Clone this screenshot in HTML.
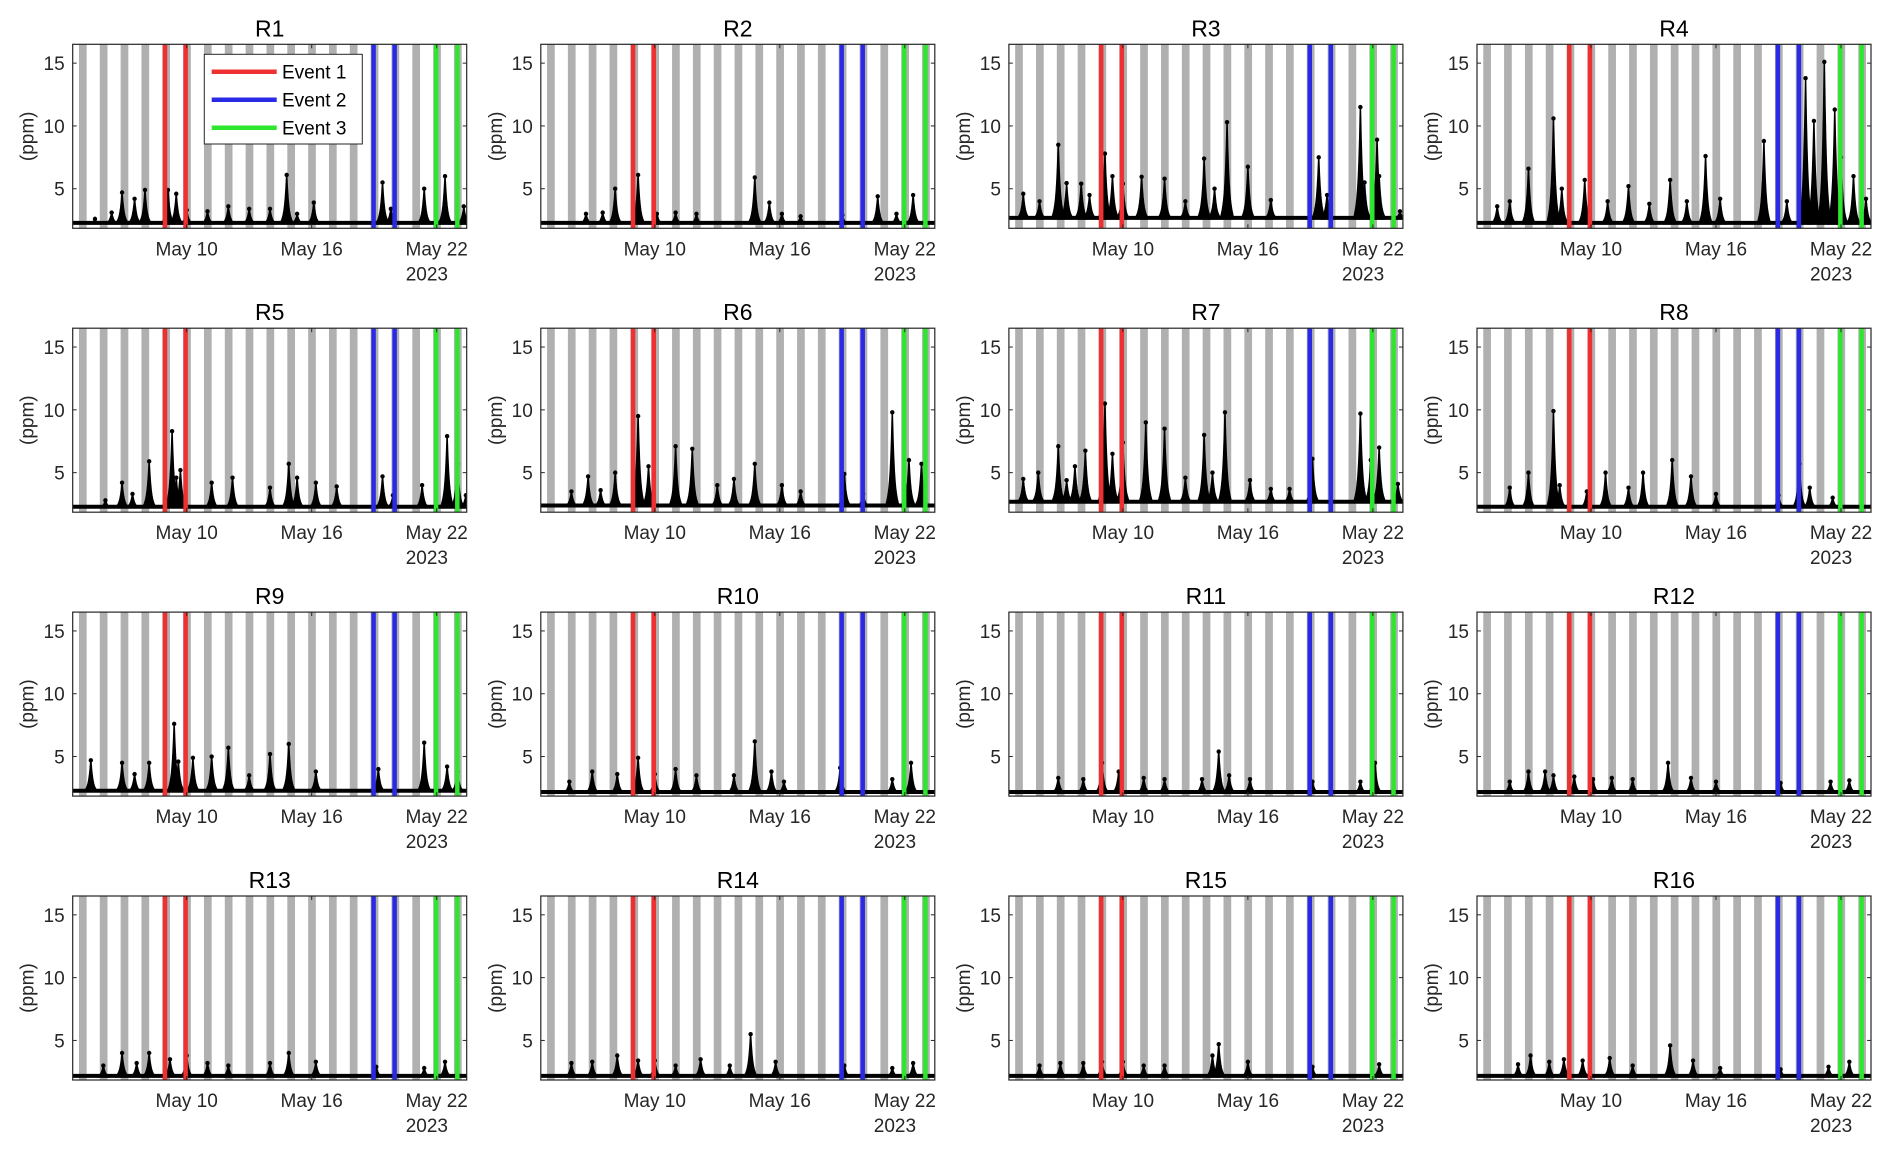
<!DOCTYPE html>
<html><head><meta charset="utf-8"><style>
html,body{margin:0;padding:0;background:#fff;}
svg{display:block;font-family:"Liberation Sans",Arial,sans-serif;}
</style></head><body>
<svg id="fig" width="1892" height="1151" viewBox="0 0 1892 1151" xmlns="http://www.w3.org/2000/svg"></svg>
<script>
const panelNames=["R1","R2","R3","R4","R5","R6","R7","R8","R9","R10","R11","R12","R13","R14","R15","R16"];
const baselines=[2.2,2.2,2.6,2.2,2.2,2.3,2.6,2.2,2.2,2.1,2.1,2.1,2.1,2.1,2.1,2.1];
const peaksR1=[[5.6,2.6],[6.4,3.1],[6.9,4.7],[7.5,4.2],[8.0,4.9],[9.1,4.9],[9.5,4.6],[10.0,3.3],[11.0,3.2],[12.0,3.6],[13.0,3.4],[14.0,3.4],[14.8,6.1],[15.3,3.0],[16.1,3.9],[19.4,5.5],[19.8,3.4],[21.4,5.0],[22.4,6.0],[23.3,3.6]];
const peaksR2=[[6.7,3.0],[7.5,3.1],[8.1,5.0],[9.2,6.1],[10.1,3.0],[11.0,3.1],[12.0,3.0],[14.8,5.9],[15.5,3.9],[16.1,3.0],[17.0,2.8],[19.0,2.9],[20.7,4.4],[21.6,3.0],[22.4,4.5]];
const peaksR3=[[5.22,4.6],[6.0,4.0],[6.9,8.5],[7.3,5.45],[8.0,5.4],[8.4,4.5],[9.14,7.8],[9.5,6.0],[10.0,5.4],[10.9,5.95],[12.0,5.8],[13.0,4.0],[13.9,7.4],[14.4,5.0],[15.0,10.3],[16.0,6.75],[17.1,4.1],[19.4,7.5],[19.8,4.5],[21.4,11.5],[21.6,5.5],[22.2,8.9],[22.3,6.0],[23.3,3.2]];
const peaksR4=[[5.5,3.6],[6.1,4.0],[7.0,6.6],[8.2,10.6],[8.6,5.0],[9.7,5.7],[10.8,4.0],[11.8,5.2],[12.8,3.8],[13.8,5.7],[14.6,4.0],[15.5,7.6],[16.2,4.2],[18.3,8.8],[19.4,4.0],[20.3,13.8],[20.7,10.4],[21.2,15.1],[21.7,11.3],[22.0,7.5],[22.6,6.0],[23.2,4.2]];
const peaksR5=[[6.1,2.8],[6.9,4.2],[7.4,3.3],[8.2,5.9],[9.3,8.3],[9.5,4.6],[9.7,5.2],[11.2,4.2],[12.2,4.6],[14.0,3.8],[14.9,5.7],[15.3,4.6],[16.2,4.2],[17.2,3.9],[19.4,4.7],[19.9,3.2],[21.3,4.0],[22.5,7.9],[23.0,5.7],[23.4,3.2]];
const peaksR6=[[6.0,3.5],[6.8,4.7],[7.4,3.6],[8.1,5.0],[9.2,9.5],[9.7,5.5],[11.0,7.1],[11.8,6.9],[13.0,4.0],[13.8,4.5],[14.8,5.7],[16.1,4.0],[17.0,3.5],[19.1,4.9],[20.0,3.3],[21.4,9.8],[22.2,6.0],[22.8,5.7]];
const peaksR7=[[5.22,4.5],[5.94,5.0],[6.9,7.1],[7.3,4.4],[7.7,5.5],[8.2,6.75],[9.14,10.5],[9.5,6.5],[10.0,7.4],[11.1,9.0],[12.0,8.5],[13.0,4.6],[13.9,8.0],[14.3,5.0],[14.9,9.8],[16.1,4.4],[17.1,3.7],[18.0,3.7],[19.1,6.1],[21.4,9.7],[21.9,6.0],[22.3,7.0],[23.2,4.1]];
const peaksR8=[[6.1,3.8],[7.0,5.0],[8.2,9.9],[8.5,4.0],[9.8,3.5],[10.7,5.0],[11.8,3.8],[12.5,5.0],[13.9,6.0],[14.8,4.7],[16.0,3.3],[19.0,3.2],[20.0,5.7],[20.5,3.8],[21.6,3.0]];
const peaksR9=[[5.4,4.7],[6.9,4.5],[7.5,3.6],[8.2,4.5],[9.4,7.6],[9.6,4.6],[10.3,4.9],[11.2,5.0],[12.0,5.7],[13.0,3.5],[14.0,5.2],[14.9,6.0],[16.2,3.8],[19.2,4.0],[21.4,6.1],[22.5,4.2],[23.0,3.8]];
const peaksR10=[[5.9,3.0],[7.0,3.8],[8.2,3.6],[9.2,4.9],[10.0,3.6],[11.0,4.0],[12.0,3.5],[13.8,3.5],[14.8,6.2],[15.6,3.8],[16.2,3.0],[18.9,4.1],[21.4,3.2],[22.3,4.5]];
const peaksR11=[[6.9,3.3],[8.1,3.2],[9.0,4.5],[9.8,3.8],[11.0,3.3],[12.0,3.2],[13.8,3.2],[14.6,5.4],[15.1,3.5],[16.1,3.2],[19.1,3.0],[21.4,3.0],[22.1,4.5]];
const peaksR12=[[6.1,3.0],[7.0,3.8],[7.8,3.8],[8.2,3.5],[9.2,3.4],[10.1,3.2],[11.0,3.3],[12.0,3.2],[13.7,4.5],[14.8,3.3],[16.0,3.0],[19.1,2.9],[21.5,3.0],[22.4,3.1]];
const peaksR13=[[6.0,3.0],[6.9,4.0],[7.6,3.2],[8.2,4.0],[9.2,3.5],[10.0,3.8],[11.0,3.2],[12.0,3.0],[14.0,3.2],[14.9,4.0],[16.2,3.3],[19.1,2.9],[21.4,2.8],[22.4,3.3]];
const peaksR14=[[6.0,3.2],[7.0,3.3],[8.2,3.8],[9.2,3.4],[10.0,3.4],[11.0,3.0],[12.2,3.5],[13.6,3.0],[14.6,5.5],[15.8,3.3],[19.1,3.0],[21.4,2.8],[22.4,3.2]];
const peaksR15=[[6.0,3.0],[7.0,3.2],[8.1,3.2],[9.0,3.3],[10.0,3.3],[11.0,3.0],[12.0,3.0],[14.3,3.8],[14.6,4.7],[16.0,3.3],[19.1,2.9],[22.3,3.1]];
const peaksR16=[[6.5,3.1],[7.1,3.8],[8.0,3.3],[8.7,3.5],[9.6,3.4],[10.9,3.6],[12.0,3.0],[13.8,4.6],[14.9,3.4],[16.2,2.8],[19.1,2.7],[21.4,2.9],[22.4,3.3]];
const allPeaks=[peaksR1,peaksR2,peaksR3,peaksR4,peaksR5,peaksR6,peaksR7,peaksR8,peaksR9,peaksR10,peaksR11,peaksR12,peaksR13,peaksR14,peaksR15,peaksR16];
const eventDays=[[8.96,9.95],[18.97,19.98],[21.97,22.99]];
const eventColors=["#ee3030","#2a2ae6","#2ee62e"];
const eventLabels=["Event 1","Event 2","Event 3"];
const yTicks=[5,10,15];
const xTicks=[10,16,22];
const xTickLabels=["May 10","May 16","May 22"];
const X_MIN=4.53,X_MAX=23.44,Y_MIN=1.85,Y_MAX=16.5;

const NS="http://www.w3.org/2000/svg";
const svg=document.getElementById('fig');
function mk(tag,attrs,parent){const e=document.createElementNS(NS,tag);for(const k in attrs)e.setAttribute(k,attrs[k]);(parent||svg).appendChild(e);return e;}

const W=394,H=184;
panelNames.forEach((name,i)=>{
  const col=i%4,row=Math.floor(i/4);
  const L=72.7+col*468.1,T=44.3+row*283.9;
  const sx=d=>L+(d-X_MIN)/(X_MAX-X_MIN)*W;
  const sy=v=>T+H-(v-Y_MIN)/(Y_MAX-Y_MIN)*H;
  const g=mk('g',{});
  
  
  const cid='clip'+i;
  const cp=mk('clipPath',{id:cid},g);mk('rect',{x:L,y:T,width:W,height:H},cp);
  const pg=mk('g',{'clip-path':'url(#'+cid+')'},g);
  for(let d=4;d<=23;d++){
    const r=mk('rect',{x:sx(d+0.83),y:T,width:sx(d+1.2)-sx(d+0.83),height:H,fill:'#b0b0b0'},pg);
    
    
  }
  const base=baselines[i];
  const bl=mk('line',{x1:L,x2:L+W,y1:sy(base)-1,y2:sy(base)-1,stroke:'#000','stroke-width':4},pg);
  
  
  allPeaks[i].forEach(p=>{
    const d=p[0],v=p[1];
    const hw=0.32;
    let path='M'+sx(d-hw)+','+sy(base)+' ';
    for(let k=-10;k<=10;k++){const t=k/10;const a=1-Math.abs(t);const vv=base+(v-base)*(0.3*a+0.7*Math.pow(a,4));path+='L'+sx(d+t*hw)+','+sy(vv)+' ';}
    path+='L'+sx(d+hw)+','+sy(base)+'Z';
    const sp=mk('path',{d:path,fill:'#000',stroke:'#000','stroke-width':1.5,'stroke-linejoin':'round'},pg);
    
    
    const c=mk('circle',{cx:sx(d),cy:sy(v),r:2.2,fill:'#000'},pg);
    
    
  });
  eventDays.forEach((pair,e)=>pair.forEach(d=>{
    const l=mk('line',{x1:sx(d),x2:sx(d),y1:T,y2:T+H,stroke:eventColors[e],'stroke-width':4.5},pg);
    
    
  }));
  const box=mk('rect',{x:L,y:T,width:W,height:H,fill:'none',stroke:'#262626','stroke-width':1.2},g);
  
  
  yTicks.forEach(v=>{
    mk('line',{x1:L,x2:L+4,y1:sy(v),y2:sy(v),stroke:'#262626'},g);
    mk('line',{x1:L+W-4,x2:L+W,y1:sy(v),y2:sy(v),stroke:'#262626'},g);
    const t=mk('text',{x:L-8,y:sy(v)+7,'text-anchor':'end','font-size':19,fill:'#262626'},g);
    t.textContent=v;
    
    
  });
  xTicks.forEach((d,k)=>{
    mk('line',{x1:sx(d),x2:sx(d),y1:T+H-4,y2:T+H,stroke:'#262626'},g);
    mk('line',{x1:sx(d),x2:sx(d),y1:T,y2:T+4,stroke:'#262626'},g);
    const t=mk('text',{x:sx(d),y:T+H+27,'text-anchor':'middle','font-size':19,fill:'#262626'},g);
    t.textContent=xTickLabels[k];
    
    
  });
  const yr=mk('text',{x:sx(22)-31,y:T+H+52,'font-size':19,fill:'#262626'},g);
  yr.textContent='2023';
  
  
  const yl=mk('text',{x:0,y:0,transform:'translate('+(L-39)+','+(T+H/2)+') rotate(-90)','text-anchor':'middle','font-size':19,fill:'#262626'},g);
  yl.textContent='(ppm)';
  
  
  const ti=mk('text',{x:L+W/2,y:T-8,'text-anchor':'middle','font-size':23,fill:'#000'},g);
  ti.textContent=name;
  
  
  if(i===0){
    const lg=mk('g',{},g);
    
    
    mk('rect',{x:204.3,y:54.3,width:158,height:89.7,fill:'#fff',stroke:'#262626','stroke-width':1},lg);
    eventLabels.forEach((lab,e)=>{
      const yy=71.7+e*28;
      const ln=mk('line',{x1:211.7,x2:276.7,y1:yy,y2:yy,stroke:eventColors[e],'stroke-width':4.5},lg);
      
      
      const t=mk('text',{x:282,y:yy+7,'font-size':19,fill:'#000'},lg);
      t.textContent=lab;
      
      
    });
  }
});
</script>
</body></html>
